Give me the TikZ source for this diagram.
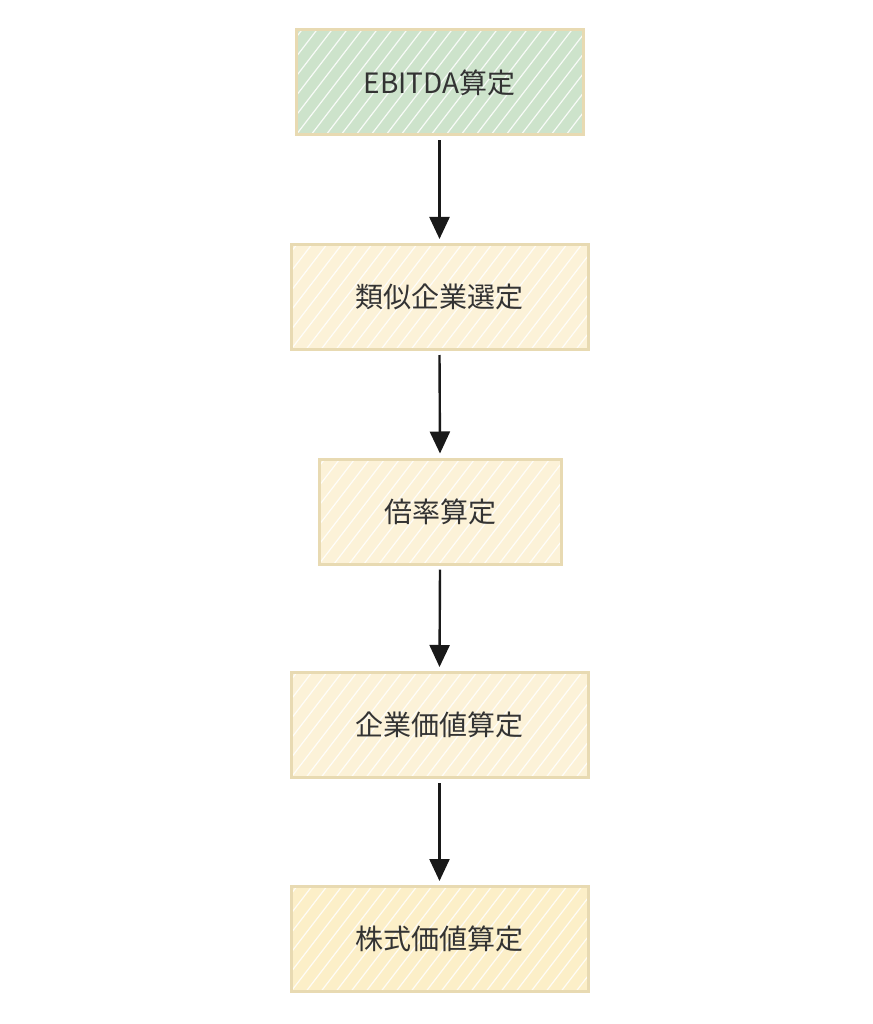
\documentclass[tikz,border=0pt]{standalone}
\usepackage{fontspec}
\newfontfamily\cjk{Noto Sans CJK JP}
\usetikzlibrary{calc,arrows.meta}
\definecolor{boxline}{HTML}{E8DAB2}
\definecolor{yfill}{HTML}{FCF2D8}
\definecolor{lastfill}{HTML}{FCEFC8}
\definecolor{gfill}{HTML}{CDE3CB}
\definecolor{txt}{HTML}{333333}
\tikzset{
  hatch/.style={path picture={
    \foreach \i in {-16,...,40}
      \draw[white, line width=1.2pt, opacity=0.85]
        ($(path picture bounding box.south west)+(\i*15pt-120pt,0)$) -- ++(100pt,130pt);
  }},
  procbox/.style={draw=boxline, line width=3pt, fill=yfill, hatch,
    minimum height=105pt, inner sep=0pt, font=\cjk\fontsize{28pt}{33pt}\selectfont, text=txt},
  startbox/.style={procbox, fill=gfill},
  flow/.style={-{Triangle[length=22pt,width=20pt]}, line width=2.4pt, black!90}
}
\begin{document}
\begin{tikzpicture}[x=1pt,y=-1pt]
\useasboundingbox (0,0) rectangle (872,1024);
\node[startbox, minimum width=287pt] (a) at (439.5,82.5) {EBITDA算定};
\node[procbox, minimum width=297pt] (b) at (439.5,297) {類似企業選定};
\node[procbox, minimum width=242pt] (c) at (440,511.5) {倍率算定};
\node[procbox, minimum width=297pt] (d) at (439.5,725) {企業価値算定};
\node[procbox, minimum width=297pt, fill=lastfill] (e) at (439.5,939) {株式価値算定};
\draw[flow] ([yshift=-4pt]a.south) -- ([yshift=4pt]b.north);
\draw[flow] ([yshift=-4pt]b.south) -- ([yshift=4pt]c.north);
\draw[flow] ([yshift=-4pt]c.south) -- ([yshift=4pt]d.north);
\draw[flow] ([yshift=-4pt]d.south) -- ([yshift=4pt]e.north);
\end{tikzpicture}
\end{document}
